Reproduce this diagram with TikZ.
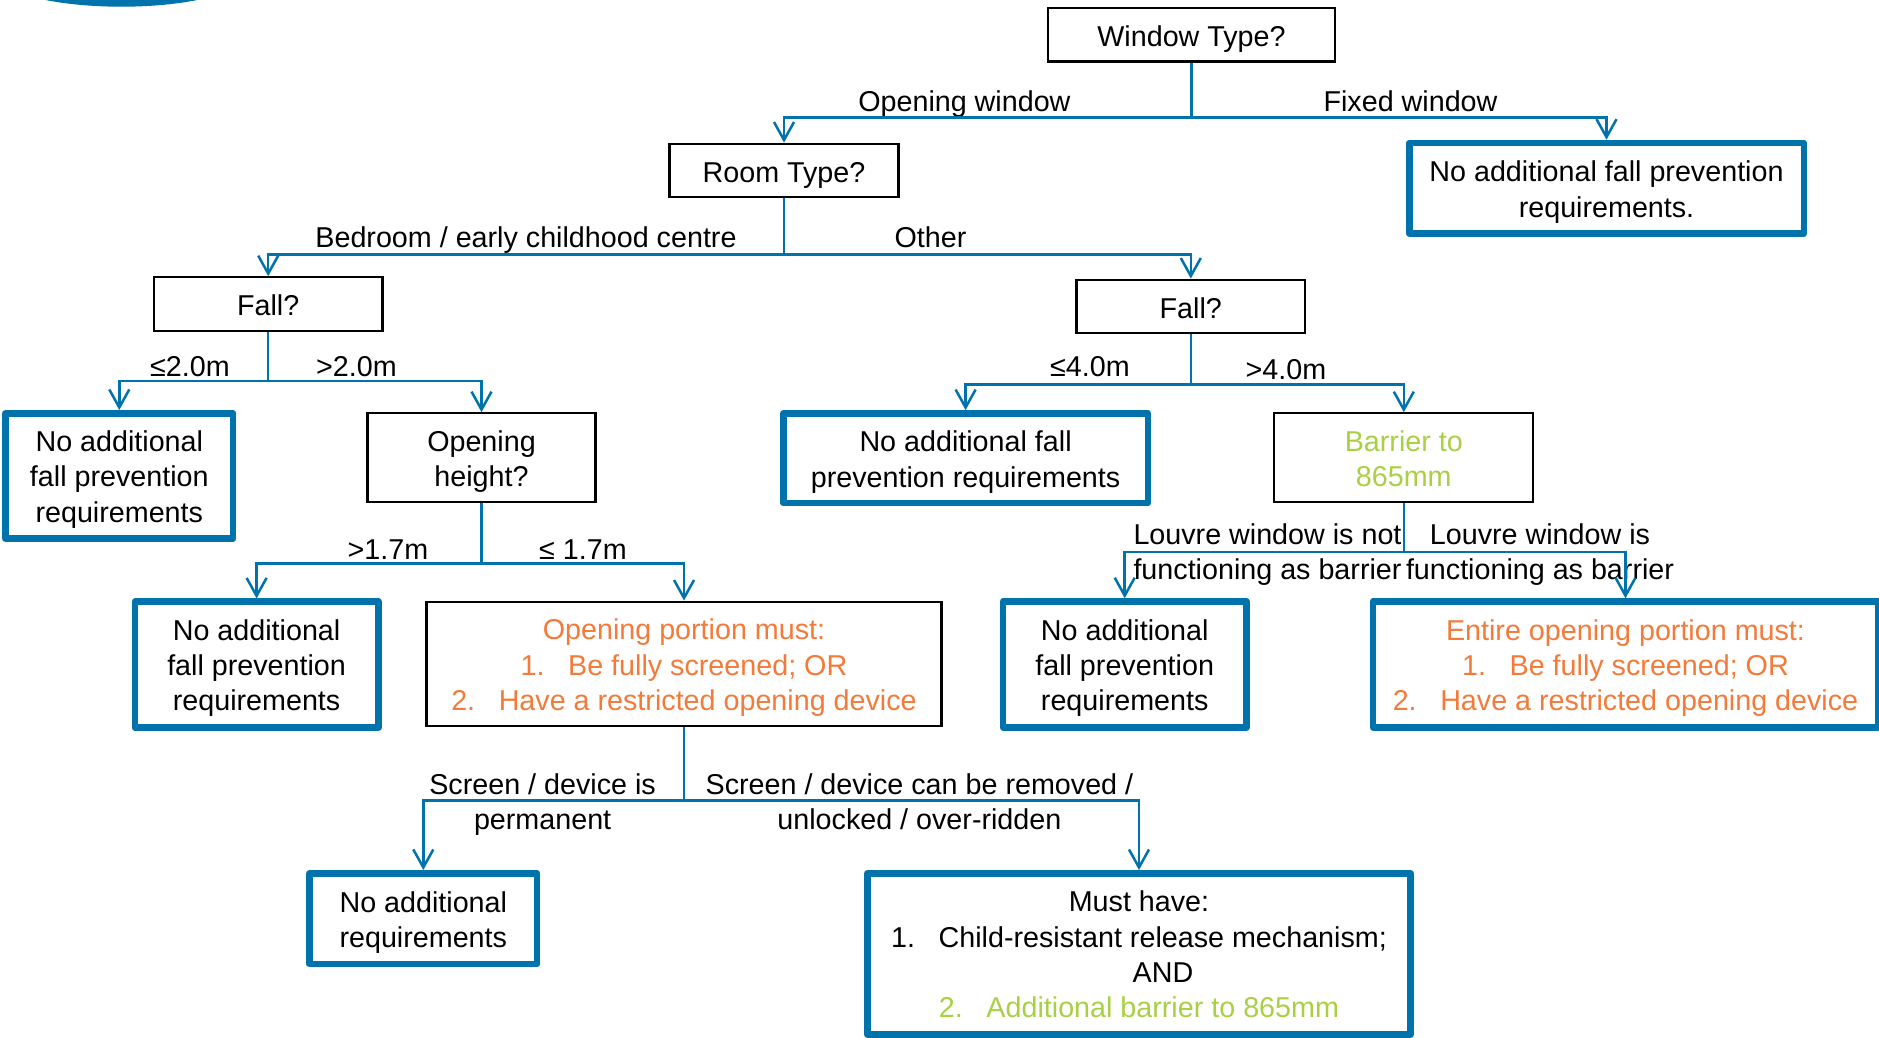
\documentclass[tikz,border=0pt]{standalone}
\usepackage{fontspec}
\setmainfont{Liberation Sans}
\usetikzlibrary{arrows.meta}
\definecolor{bluec}{HTML}{0072AC}
\definecolor{orangec}{HTML}{F47A3A}
\definecolor{greenc}{HTML}{A9D044}
\newcommand{\numitem}[2]{\makebox[47.5pt][l]{#1}#2}
\tikzset{
  base font/.style={font=\fontsize{28.7}{35.2}\selectfont, align=center, inner sep=0pt, outer sep=0pt},
  one/.style={text height=29.4pt, text depth=6pt},
  two/.style={text height=63.6pt, text depth=6pt},
  three/.style={text height=98.4pt, text depth=6pt},
  four/.style={text height=133.2pt, text depth=6pt},
  thin box/.style={base font, draw=black, line width=2.2pt, fill=white, outer sep=1.1pt},
  thick box/.style={base font, draw=bluec, line width=6.5pt, line join=round, fill=white, outer sep=3.25pt},
  lbl/.style={base font, anchor=base, yshift=-0.7pt},
  lbl two/.style={base font, two},
  conn/.style={draw=bluec, line width=2.5pt},
  arr/.style={conn, -{Straight Barb[length=18pt,width=20pt,line width=2.5pt]}}
}
\begin{document}
\begin{tikzpicture}[x=1pt,y=-1pt]
\useasboundingbox (0,0) rectangle (1879,1038);
\clip (0,0) rectangle (1879,1038);
\fill[bluec] (121.5,-30) ellipse [x radius=132, y radius=36.7];

% decision boxes
\node[thin box, one, minimum width=287pt, minimum height=53.5pt] (window) at (1191.5,34.75) {Window Type?};
\node[thin box, one, minimum width=229pt, minimum height=53.6pt] (room) at (784,170.5) {Room Type?};
\node[thin box, one, minimum width=228.5pt, minimum height=53.4pt] (fallL) at (268.2,304) {Fall?};
\node[thin box, one, minimum width=228.5pt, minimum height=53.6pt] (fallR) at (1190.8,306.5) {Fall?};
\node[thin box, two, minimum width=228pt, minimum height=89pt] (height) at (481.5,457.8) {Opening\\height?};
\node[thin box, two, minimum width=259pt, minimum height=89pt, text=greenc] (barrier) at (1403.8,457.8) {Barrier to\\865mm};
\node[thin box, three, minimum width=515pt, minimum height=124.6pt, text=orangec] (portion) at (684,664)
  {Opening portion must:\\\numitem{1.}{Be fully screened; OR}\\\numitem{2.}{Have a restricted opening device}};

% outcome boxes
\node[thick box, two, minimum width=394.5pt, minimum height=90.7pt] (fixedOut) at (1606.5,188.35) {No additional fall prevention\\requirements.};
\node[thick box, three, minimum width=227.8pt, minimum height=125.4pt, text height=98pt] (noL) at (119.3,476) {No additional\\fall prevention\\requirements};
\node[thick box, two, minimum width=364.4pt, minimum height=89.7pt] (noM) at (965.6,458.2) {No additional fall\\prevention requirements};
\node[thick box, three, minimum width=243.4pt, minimum height=126pt] (noH) at (256.6,664.7) {No additional\\fall prevention\\requirements};
\node[thick box, three, minimum width=243.4pt, minimum height=125.8pt] (noB) at (1124.7,664.4) {No additional\\fall prevention\\requirements};
\node[thick box, three, minimum width=505pt, minimum height=125.8pt, text=orangec] (entire) at (1625.5,664.4)
  {Entire opening portion must:\\\numitem{1.}{Be fully screened; OR}\\\numitem{2.}{Have a restricted opening device}};
\node[thick box, two, minimum width=227.8pt, minimum height=90.7pt] (noReq) at (423.3,918.6) {No additional\\requirements};
\node[thick box, four, minimum width=543.1pt, minimum height=161.2pt] (must) at (1139,953.9)
  {Must have:\\\numitem{1.}{Child-resistant release mechanism;}\\\hspace*{48pt}AND\\\textcolor{greenc}{\numitem{2.}{Additional barrier to 865mm}}};

% branch labels
\node[lbl] (lOpen) at (964.4,110.7) {Opening window};
\node[lbl] (lFixed) at (1410.5,110.7) {Fixed window};
\node[lbl] (lBed) at (526,246.7) {Bedroom / early childhood centre};
\node[lbl] (lOther) at (930.5,246.7) {Other};
\node[lbl] (lLe2) at (190,376) {≤2.0m};
\node[lbl] (lGt2) at (356.5,376) {>2.0m};
\node[lbl] (lLe4) at (1090,376) {≤4.0m};
\node[lbl] (lGt4) at (1286,378.3) {>4.0m};
\node[lbl] (lGt17) at (388,559) {>1.7m};
\node[lbl] (lLe17) at (583,559) {≤ 1.7m};
\node[lbl two] (lNot) at (1267.5,550.7) {Louvre window is not\\functioning as barrier};
\node[lbl two] (lIs) at (1540,550.7) {Louvre window is\\functioning as barrier};
\node[lbl two] (lPerm) at (542.6,800.4) {Screen / device is\\permanent};
\node[lbl two] (lRem) at (919.4,800.4) {Screen / device can be removed /\\unlocked / over-ridden};

% junctions
\coordinate (j1) at (window.south |- 0,117.7);
\coordinate (j2) at (room.south |- 0,254.3);
\coordinate (j3) at (fallL.south |- 0,381);
\coordinate (j4) at (fallR.south |- 0,384.3);
\coordinate (j5) at (height.south |- 0,563.3);
\coordinate (j6) at (barrier.south |- 0,551.8);
\coordinate (j7) at (portion.south |- 0,800.3);

% connectors
\draw[conn] (window.south) -- (j1);
\draw[arr] (j1) -| (room.north);
\draw[arr] (j1) -| (fixedOut.north);
\draw[conn] (room.south) -- (j2);
\draw[arr] (j2) -| (fallL.north);
\draw[arr] (j2) -| (fallR.north);
\draw[conn] (fallL.south) -- (j3);
\draw[arr] (j3) -| (noL.north);
\draw[arr] (j3) -| (height.north);
\draw[conn] (fallR.south) -- (j4);
\draw[arr] (j4) -| (noM.north);
\draw[arr] (j4) -| (barrier.north);
\draw[conn] (height.south) -- (j5);
\draw[arr] (j5) -| (noH.north);
\draw[arr] (j5) -| (portion.north);
\draw[conn] (barrier.south) -- (j6);
\draw[arr] (j6) -| (noB.north);
\draw[arr] (j6) -| (entire.north);
\draw[conn] (portion.south) -- (j7);
\draw[arr] (j7) -| (noReq.north);
\draw[arr] (j7) -| (must.north);
\end{tikzpicture}
\end{document}
